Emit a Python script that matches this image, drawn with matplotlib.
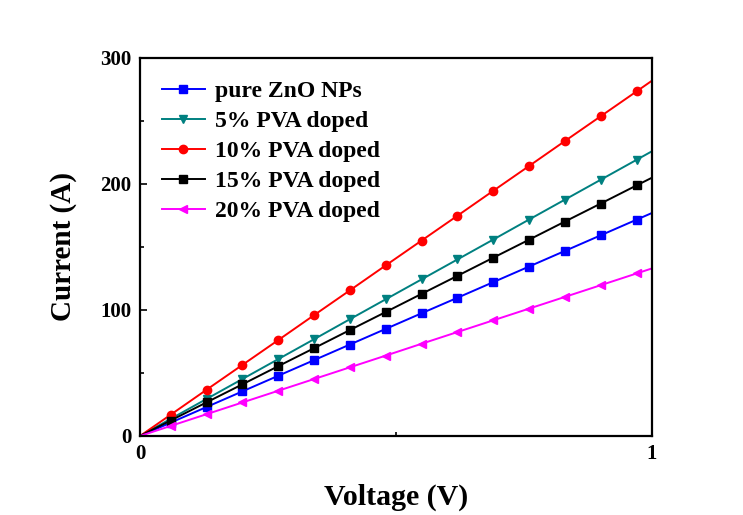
import matplotlib
matplotlib.use('Agg')
import matplotlib.pyplot as plt
from matplotlib.ticker import MultipleLocator

plt.rcParams['font.family'] = ['Liberation Serif', 'DejaVu Serif']
plt.rcParams['font.weight'] = 'bold'

# voltage points (V)
voltage = [0, 0.06, 0.13, 0.20, 0.27, 0.34, 0.41, 0.48, 0.55, 0.62, 0.69, 0.76, 0.83, 0.90, 0.97, 1.0]

# current (A) for each sample
pure_zno = [0, 10.6, 23.0, 35.4, 47.8, 60.2, 72.6, 85.0, 97.4, 109.7, 122.1, 134.5, 146.9, 159.3, 171.7, 177]
pva_5 = [0, 13.6, 29.4, 45.2, 61.0, 76.8, 92.7, 108.5, 124.3, 140.1, 155.9, 171.8, 187.6, 203.4, 219.2, 226]
pva_10 = [0, 16.9, 36.7, 56.4, 76.1, 95.9, 115.6, 135.4, 155.1, 174.8, 194.6, 214.3, 234.1, 253.8, 273.5, 282]
pva_15 = [0, 12.3, 26.7, 41.0, 55.4, 69.7, 84.1, 98.4, 112.8, 127.1, 141.5, 155.8, 170.2, 184.5, 198.9, 205]
pva_20 = [0, 8.0, 17.3, 26.6, 35.9, 45.2, 54.5, 63.8, 73.2, 82.5, 91.8, 101.1, 110.4, 119.7, 129.0, 133]

labels = ['pure ZnO NPs', '5% PVA doped', '10% PVA doped', '15% PVA doped', '20% PVA doped']

fig = plt.figure(figsize=(7.43, 5.15), dpi=100)
ax = fig.add_axes([0.1884, 0.1534, 0.6891, 0.734])

marks = list(range(1, 15))
series = [
    (pure_zno, '#0000ff', 's'),
    (pva_5, '#008080', 'v'),
    (pva_10, '#ff0000', 'o'),
    (pva_15, '#000000', 's'),
    (pva_20, '#ff00ff', '<'),
]
for (y, c, m), lab in zip(series, labels):
    ax.plot(voltage, y, color=c, marker=m, markersize=6, linewidth=1.4,
            markevery=marks, label=lab)

ax.set_xlim(0, 1)
ax.set_ylim(0, 300)
ax.set_xticks([0, 1])
ax.xaxis.set_minor_locator(MultipleLocator(0.5))
ax.yaxis.set_major_locator(MultipleLocator(100))
ax.yaxis.set_minor_locator(MultipleLocator(50))
ax.tick_params(which='both', direction='in', top=False, right=False, width=1.2)
ax.tick_params(which='major', length=5, labelsize=15, pad=6)
ax.tick_params(which='minor', length=3)
for s in ax.spines.values():
    s.set_linewidth(1.6)

ax.set_xlabel('Voltage (V)', fontsize=21.5, fontweight='bold', labelpad=14)
ax.set_ylabel('Current (A)', fontsize=21, fontweight='bold', labelpad=17)

ax.legend(loc='upper left', frameon=False, handlelength=1.8,
          handletextpad=0.45, labelspacing=0.36, borderaxespad=0,
          bbox_to_anchor=(0.025, 0.965),
          prop={'weight': 'bold', 'size': 17})

fig.savefig('out.png', dpi=100)
